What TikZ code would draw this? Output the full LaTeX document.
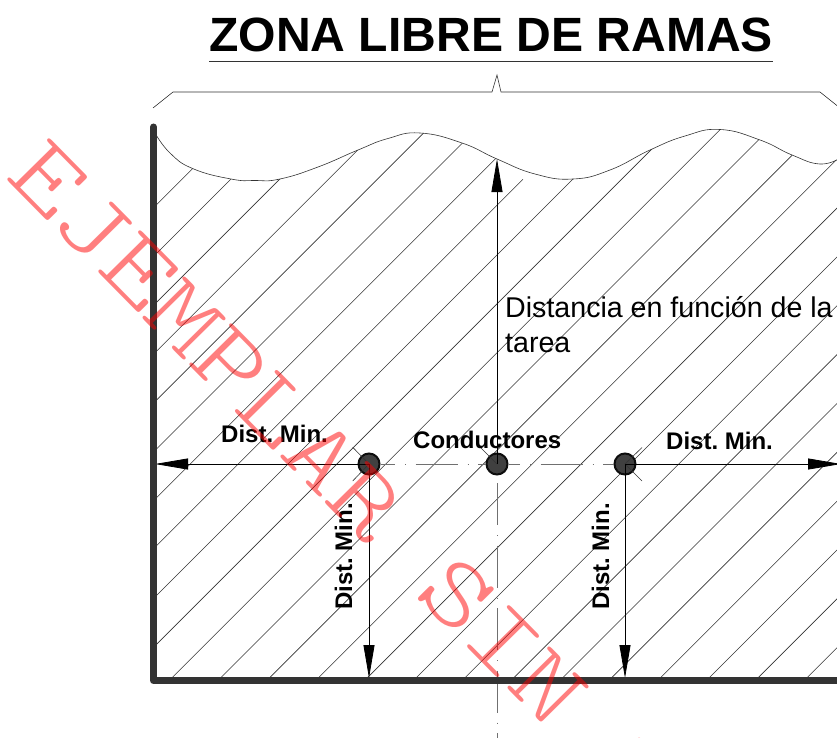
\documentclass[tikz,border=0pt]{standalone}
\usepackage{fontspec}
\setmainfont{Liberation Sans}
\newfontfamily\stampfont{Latin Modern Mono Light}
\frenchspacing
\usetikzlibrary{arrows.meta}
\definecolor{framegray}{HTML}{333333}
\definecolor{axisgray}{HTML}{707070}
\begin{document}
\begin{tikzpicture}[x=1pt,y=-1pt,
    thinline/.style={line width=0.6pt,black!80},
    framelinestyle/.style={line width=7pt,framegray,line cap=round,line join=round},
    axisline/.style={line width=1pt,axisgray,dash pattern=on 42pt off 10pt on 1pt off 9.5pt},
    dimarrow/.style={line width=0.8pt,black,-{Triangle[length=33pt,width=11pt]}},
    conductor/.style={circle,draw=black!95,line width=2pt,fill=black!75,minimum size=21pt,inner sep=0pt},
    dimlabel/.style={font=\bfseries\fontsize{24}{24}\selectfont,inner sep=0pt,anchor=base west},
    plainlabel/.style={font=\fontsize{28.6}{28.6}\selectfont,inner sep=0pt,anchor=base west}]
\clip[use as bounding box] (0,0) rectangle (837,738);
\node[font=\bfseries\fontsize{48.1}{48.1}\selectfont,inner sep=0pt,anchor=base west] (title) at (209,52) {ZONA LIBRE DE RAMAS};
\draw[thinline] ([yshift=-9.5pt]title.base west) -- ([yshift=-9.5pt]title.base east);
\coordinate (braceL) at (153,108);
\coordinate (braceR) at (840,108);
\draw[thinline] (braceL) -- (173,92) -- (492,92) -- (497,75) -- (501,92) -- (820,92) -- (braceR);
\begin{scope}
\clip plot[smooth,tension=0.8] coordinates {(155,133) (170,153) (193,168.7) (231,179) (255,180.5) (280,179) (318,167) (358,150) (388,138.5) (420,133) (462,143) (497,159) (535,174) (573,179) (610,170) (650,150) (685,136) (720,129.5) (760,140) (792,155) (820,164) (840,158)} -- (840,680) -- (154,680) -- cycle;
\foreach \k in {-10,...,-4,-2,-1,...,13}
    \draw[thinline] ({849.7+48.85*\k-700},700) -- ({849.7+48.85*\k},0);
\draw[thinline] (157,545.3) -- (523,179.3);
\end{scope}
\draw[thinline] plot[smooth,tension=0.8] coordinates {(155,133) (170,153) (193,168.7) (231,179) (255,180.5) (280,179) (318,167) (358,150) (388,138.5) (420,133) (462,143) (497,159) (535,174) (573,179) (610,170) (650,150) (685,136) (720,129.5) (760,140) (792,155) (820,164) (840,158)};
\node[conductor] (cond1) at (369,464) {};
\node[conductor] (cond2) at (497,464) {};
\node[conductor] (cond3) at (625,464) {};
\coordinate (axisL) at (353,464);
\coordinate (axisT) at (497,483);
\coordinate (axisB) at (497,738);
\draw[axisline] (axisL) -- (cond1);
\draw[axisline,dash phase=27.5pt] (cond1.east) -- (cond2.west);
\draw[axisline,dash phase=30.5pt] (cond2.east) -- (cond3.west);
\draw[axisline] (axisT) -- (axisB);
\coordinate (tickA) at (352.7,447.3);
\coordinate (tickB) at (352.7,481);
\coordinate (tickC) at (480,447);
\coordinate (tickD) at (642,447.5);
\coordinate (tickE) at (642,481);
\draw[thinline] (tickA) -- (cond1.center) -- (tickB);
\draw[thinline] (tickC) -- (cond2.center);
\draw[thinline] (tickD) -- (cond3.center) -- (tickE);
\coordinate (wallL) at (155,464);
\coordinate (wallR) at (841,464);
\coordinate (waveP) at (497,159);
\coordinate (floorA) at (369,678);
\coordinate (floorB) at (625,678);
\draw[dimarrow] (cond1.center) -- (wallL);
\draw[dimarrow] (cond3.center) -- (wallR);
\draw[dimarrow] (cond2.center) -- (waveP);
\draw[dimarrow] (cond1.center) -- (floorA);
\draw[dimarrow] (cond3.center) -- (floorB);
\draw[framelinestyle] (153.5,127) -- (153.5,680.5) -- (845,680.5);
\node[plainlabel] (taskA) at (505,317) {Distancia en función de la};
\node[plainlabel] (taskB) at (505,352) {tarea};
\node[dimlabel] (minL) at (221,442) {Dist. Min.};
\node[dimlabel] (minR) at (666,449) {Dist. Min.};
\node[dimlabel] (wires) at (413,448) {Conductores};
\node[dimlabel,rotate=90] (minA) at (352,610) {Dist. Min.};
\node[dimlabel,rotate=90] (minB) at (609,610) {Dist. Min.};
\node[red,opacity=0.5,rotate=-45.4,xscale=1.26,inner sep=0pt,font=\fontsize{98}{98}\stampfont] (stamp) at (435,572) {EJEMPLAR SIN VALOR};
\end{tikzpicture}
\end{document}
